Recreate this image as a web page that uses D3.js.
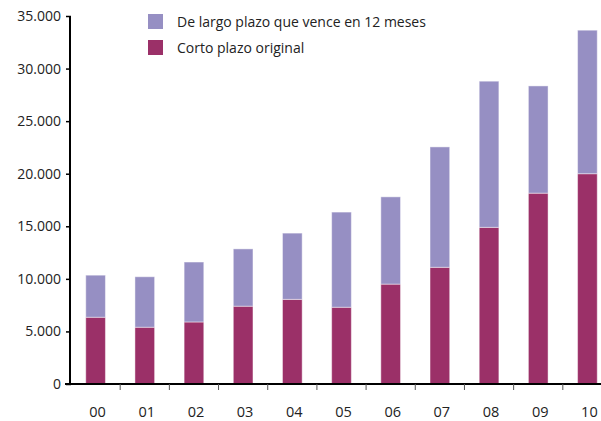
<!DOCTYPE html>
<html>
<head>
<meta charset="utf-8">
<script src="https://cdn.jsdelivr.net/npm/d3@7"></script>
<style>
  body { margin: 0; background: #fff; }
  svg text { font-family: "Open Sans", "Noto Sans", sans-serif; fill: #222; }
</style>
</head>
<body>
<div id="chart"></div>
<script>
var years = ["00", "01", "02", "03", "04", "05", "06", "07", "08", "09", "10"]
var cortoPlazo = [6350, 5400, 5900, 7400, 8050, 7300, 9500, 11100, 14900, 18150, 20000]
var largoPlazo12m = [4000, 4800, 5700, 5450, 6300, 9050, 8300, 11450, 13900, 10200, 13650]
var yTicks = [0, 5000, 10000, 15000, 20000, 25000, 30000, 35000]
var seriesNames = ["De largo plazo que vence en 12 meses", "Corto plazo original"]
var seriesColors = ["#968fc3", "#9b3068"]

var width = 601, height = 421
var margin = {top: 16, right: -11, bottom: 37, left: 71}
var innerW = width - margin.left - margin.right
var innerH = height - margin.top - margin.bottom

var svg = d3.select("#chart").append("svg")
    .attr("width", width)
    .attr("height", height)

var plot = svg.append("g")
    .attr("transform", `translate(${margin.left},${margin.top})`)

var xScale = d3.scaleBand().domain(years).range([0, innerW]).paddingInner(0.6).paddingOuter(0.3)
var yScale = d3.scaleLinear().domain([0, 35000]).range([innerH, 0])

// stack: corto at bottom, largo on top
var rows = years.map(function(y, i){
    return {year: y, corto: cortoPlazo[i], largo: largoPlazo12m[i]}
})
var stacked = d3.stack().keys(["corto", "largo"])(rows)
var colorOf = {corto: seriesColors[1], largo: seriesColors[0]}

plot.selectAll("g.layer")
    .data(stacked)
    .enter().append("g")
    .attr("class", "layer")
    .attr("fill", d => colorOf[d.key])
    .selectAll("rect")
    .data(d => d)
    .enter().append("rect")
    .attr("x", d => xScale(d.data.year))
    .attr("width", xScale.bandwidth())
    .attr("y", d => yScale(d[1]))
    .attr("height", d => yScale(d[0]) - yScale(d[1]))
    .attr("stroke", "rgba(255,255,255,0.45)")
    .attr("stroke-width", 1)

// y axis
var yAxis = d3.axisLeft(yScale).tickValues(yTicks).tickSize(5).tickPadding(5)
    .tickFormat(d => d3.format(",")(d).replace(/,/g, "."))
var yg = plot.append("g").attr("class", "y axis").call(yAxis)
yg.select(".domain").remove()
yg.selectAll(".tick line").attr("stroke", "#000").attr("stroke-width", 1.5)
yg.selectAll(".tick text").style("font-size", "14px").attr("fill", "#222")
plot.append("line")
    .attr("x1", -1).attr("x2", -1)
    .attr("y1", 0).attr("y2", innerH + 1)
    .attr("stroke", "#000").attr("stroke-width", 2)

// x axis: ticks on band boundaries
var boundaries = years.map(y => xScale(y) - xScale.step() * xScale.paddingInner() / 2)
boundaries.push(innerW)
var xg = plot.append("g").attr("class", "x axis")
    .attr("transform", `translate(0,${innerH})`)
xg.append("line")
    .attr("x1", -6).attr("x2", innerW)
    .attr("y1", 0).attr("y2", 0)
    .attr("stroke", "#000").attr("stroke-width", 2)
xg.selectAll("line.tk")
    .data(boundaries.slice(1))
    .enter().append("line")
    .attr("class", "tk")
    .attr("x1", d => d).attr("x2", d => d)
    .attr("y1", 0).attr("y2", 6)
    .attr("stroke", "#555").attr("stroke-width", 1)
xg.selectAll("text")
    .data(years)
    .enter().append("text")
    .attr("x", d => xScale(d) + xScale.bandwidth() / 2 + 2)
    .attr("y", 33)
    .attr("text-anchor", "middle")
    .style("font-size", "14.5px")
    .text(d => d)

// legend
var legend = svg.append("g").attr("transform", "translate(148,14)")
seriesNames.forEach(function(name, i){
    var row = legend.append("g").attr("transform", `translate(0,${i * 26})`)
    row.append("rect").attr("width", 15).attr("height", 15).attr("fill", seriesColors[i])
    row.append("text").attr("x", 29).attr("y", 13)
        .style("font-size", "14px")
        .text(name)
})
</script>
</body>
</html>
